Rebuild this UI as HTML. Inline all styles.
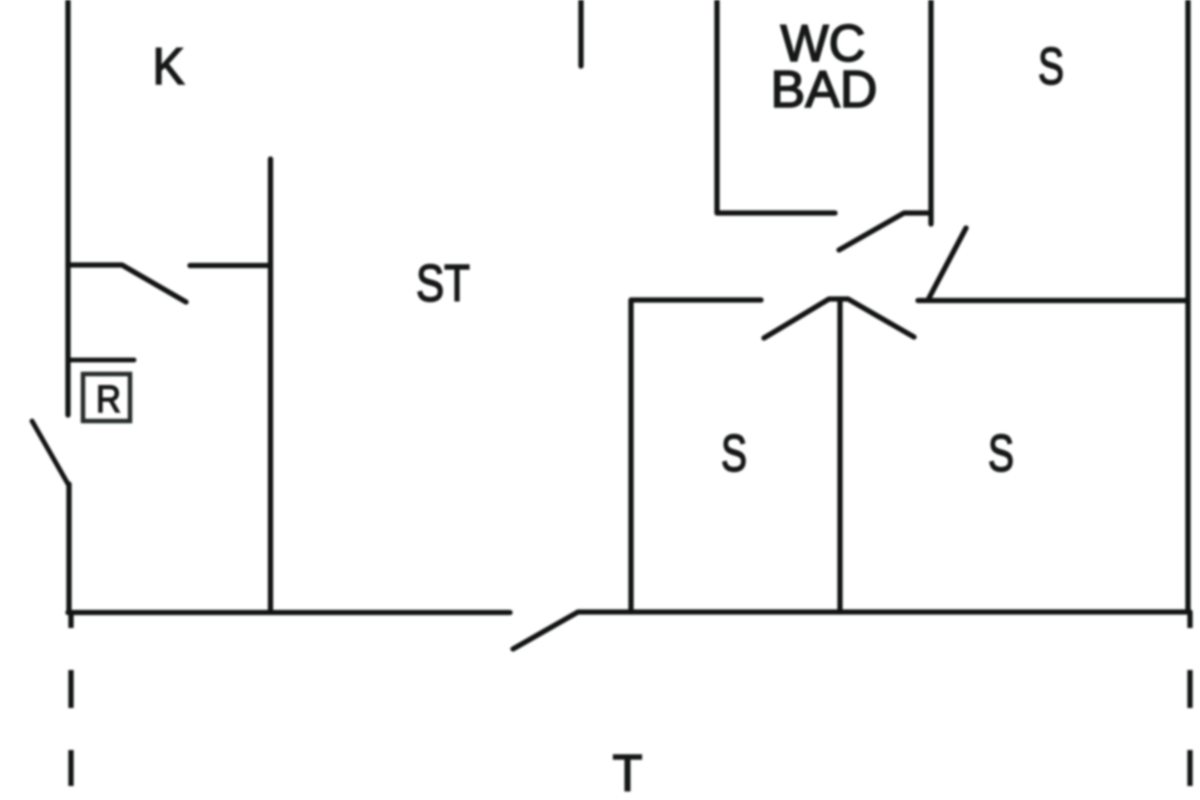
<!DOCTYPE html>
<html>
<head>
<meta charset="utf-8">
<style>
html,body{margin:0;padding:0;background:#fff;width:1200px;height:800px;overflow:hidden}
svg{display:block;filter:blur(0.95px)}
text{font-family:"Liberation Sans",sans-serif;font-size:52px;fill:#161817;stroke:#161817;stroke-width:1.6px;text-anchor:middle}
</style>
</head>
<body>
<svg width="1200" height="800" viewBox="0 0 1200 800" xmlns="http://www.w3.org/2000/svg">
<g fill="none" stroke="#121413" stroke-width="5.300" stroke-linecap="round" stroke-linejoin="round">
<path d="M68 -5V415"/>
<path d="M69 484V612"/>
<path d="M32 421L68 484" stroke-width="4.800"/>
<path d="M68 265H122L186 302"/>
<path d="M190 265.500H270"/>
<path d="M270.500 159V612"/>
<path d="M68 360H134" stroke-width="4.800"/>
<path d="M68 612.500H510"/>
<path d="M513 649L578 612H1190"/>
<path d="M581 -5V66"/>
<path d="M717 -5V213H835"/>
<path d="M931 -5V224"/>
<path d="M839 250L904 213H931"/>
<path d="M966 228L929 298"/>
<path d="M918 300.500H1188"/>
<path d="M1188 -5V612"/>
<path d="M631 612V300H761"/>
<path d="M764 338L829 299H848L914 337"/>
<path d="M840 299V612"/>
</g>
<g fill="none" stroke="#121413" stroke-width="5.300">
<path d="M71 612V628M71 670V708M71 750V786"/>
<path d="M1190 612V628M1190 670V708M1190 750V786"/>
</g>
<rect x="83" y="374" width="47" height="47" fill="none" stroke="#262c2a" stroke-width="4.500"/>
<text x="108.500" y="412" style="font-size:38px;stroke-width:1.400px" textLength="25" lengthAdjust="spacingAndGlyphs">R</text>
<text x="168.500" y="84" textLength="32" lengthAdjust="spacingAndGlyphs">K</text>
<text x="443" y="301" textLength="54" lengthAdjust="spacingAndGlyphs">ST</text>
<text x="823" y="61" textLength="85" lengthAdjust="spacingAndGlyphs">WC</text>
<text x="824" y="107" textLength="107" lengthAdjust="spacingAndGlyphs">BAD</text>
<text x="1051" y="84" textLength="26" lengthAdjust="spacingAndGlyphs">S</text>
<text x="734" y="471" textLength="26" lengthAdjust="spacingAndGlyphs">S</text>
<text x="1001" y="471" textLength="26" lengthAdjust="spacingAndGlyphs">S</text>
<text x="627.500" y="791" textLength="30" lengthAdjust="spacingAndGlyphs">T</text>
</svg>
</body>
</html>
